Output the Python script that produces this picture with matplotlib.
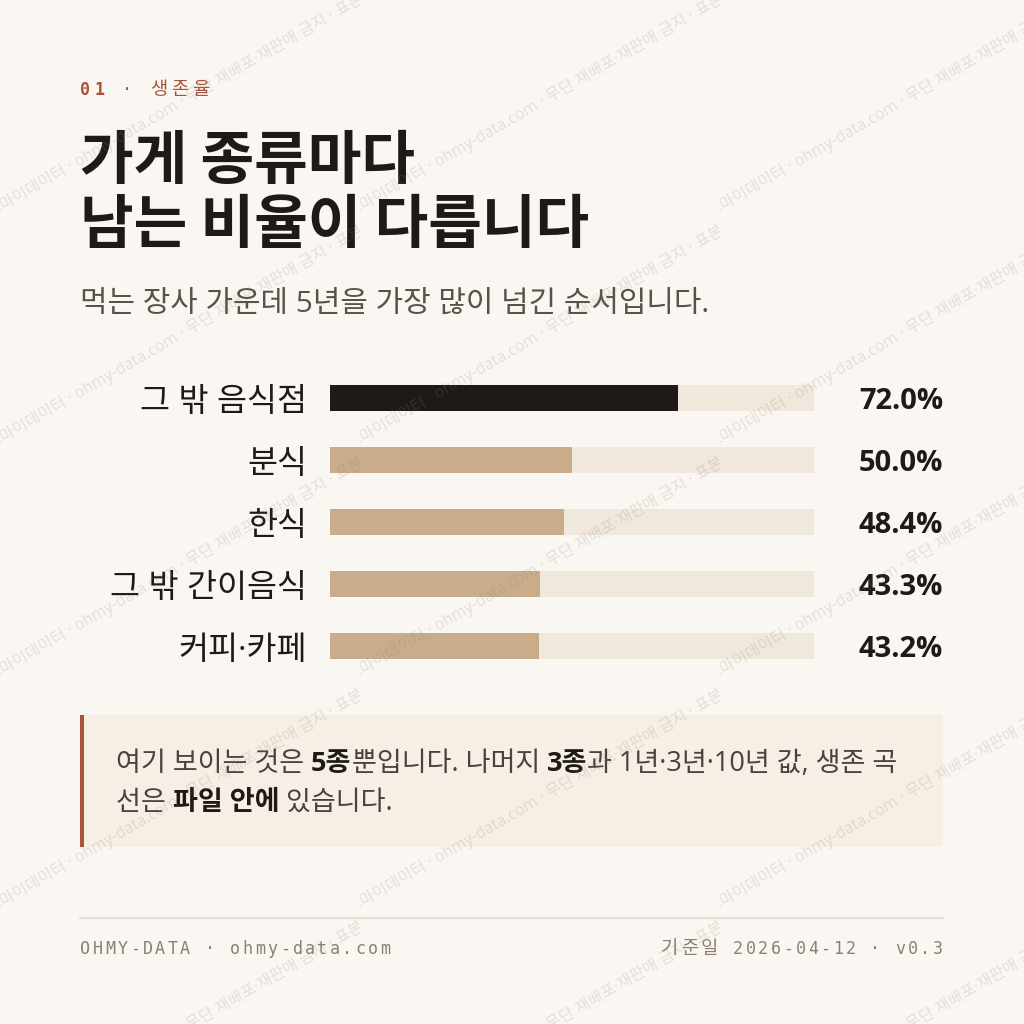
import matplotlib
matplotlib.use("Agg")
import matplotlib.pyplot as plt
from matplotlib.patches import Rectangle

# Data
categories = ["그 밖 음식점", "분식", "한식", "그 밖 간이음식", "커피·카페"]
survival_5y = [72.0, 50.0, 48.4, 43.3, 43.2]
highlight = [True, False, False, False, False]

kicker = "01 · 생존율"
title_lines = ["가게 종류마다", "남는 비율이 다릅니다"]
subtitle = "먹는 장사 가운데 5년을 가장 많이 넘긴 순서입니다."
note_line1 = [("여기 보이는 것은 ", False), ("5종", True), ("뿐입니다. 나머지 ", False),
              ("3종", True), ("과 1년·3년·10년 값, 생존 곡", False)]
note_line2 = [("선은 ", False), ("파일 안에", True), (" 있습니다.", False)]
footer_left = "OHMY-DATA · ohmy-data.com"
footer_right = "기준일 2026-04-12 · v0.3"
watermark = "오마이데이터 · ohmy-data.com · 무단 재배포·재판매 금지 · 표본 외 사용 금지"

# Colours
BG = "#faf7f2"
DARK = "#1f1a17"
TAN = "#c9ad8a"
TRACK = "#f0e8dc"
RUST = "#a8533a"
NOTE_BG = "#f6efe6"
GREY = "#5a5149"
FOOT = "#8c7f70"
CJK = "Noto Sans CJK KR"
SANS = ["Open Sans", CJK]
MONO = ["DejaVu Sans Mono", CJK]

fig = plt.figure(figsize=(10.24, 10.24), dpi=100, facecolor=BG)
renderer = fig.canvas.get_renderer()

# background axes in pixel coordinates
bg = fig.add_axes([0, 0, 1, 1])
bg.set_xlim(0, 1024)
bg.set_ylim(1024, 0)
bg.axis("off")


def advance(ax, s, **kw):
    # width of a string including spaces, via bar padding
    a = ax.text(0, 0, "|" + s + "|", **kw)
    b = ax.text(0, 0, "||", **kw)
    w = a.get_window_extent(renderer).width - b.get_window_extent(renderer).width
    a.remove()
    b.remove()
    return w


def spaced(ax, x, y, s, track, props):
    # draws letter-spaced text char by char, props is a function of the char
    for ch in s:
        kw = props(ch)
        if ch != " ":
            ax.text(x, y, ch, va="baseline", **kw)
        x += advance(ax, ch, **kw) + track
    return x


def spaced_width(ax, s, track, props):
    return sum(advance(ax, ch, **props(ch)) for ch in s) + track * (len(s) - 1)


def is_hangul(ch):
    return "\uac00" <= ch <= "\ud7a3"


# kicker
def kicker_props(ch):
    return dict(fontsize=13.5 if is_hangul(ch) else 12, family=MONO, color=RUST,
                weight="bold" if ch.isdigit() else "normal")


spaced(bg, 80, 95, kicker, 4, kicker_props)

# title + subtitle
bg.text(80, 179, title_lines[0], fontsize=42, weight="bold", family=CJK, color=DARK, va="baseline")
bg.text(80, 243, title_lines[1], fontsize=42, weight="bold", family=CJK, color=DARK, va="baseline")
bg.text(80, 312, subtitle, fontsize=21.5, family=SANS, color=GREY, va="baseline")

# note box
bg.add_patch(Rectangle((80, 715), 863, 132, facecolor=NOTE_BG, edgecolor="none"))
bg.add_patch(Rectangle((80, 715), 4, 132, facecolor=RUST, edgecolor="none"))


def runs(ax, x, y, parts, size):
    for s, bold in parts:
        kw = dict(fontsize=size, family=SANS, color=DARK if bold else "#4a423b",
                  weight="bold" if bold else "normal")
        ax.text(x, y, s, va="baseline", **kw)
        x += advance(ax, s, **kw)


runs(bg, 116, 771, note_line1, 19.5)
runs(bg, 116, 810, note_line2, 19.5)

# footer
bg.plot([80, 943], [918, 918], color="#e6dfd3", lw=1.5)


def foot_props(ch):
    return dict(fontsize=13.5 if is_hangul(ch) else 12, family=MONO, color=FOOT)


spaced(bg, 80, 954, footer_left, 2.5, foot_props)
w = spaced_width(bg, footer_right, 2.5, foot_props)
spaced(bg, 943 - w, 954, footer_right, 2.5, foot_props)

# bar chart
ax = fig.add_axes([330 / 1024, 1 - 677 / 1024, 484 / 1024, 310 / 1024])
ax.patch.set_alpha(0)
ypos = list(range(len(categories)))
ax.barh(ypos, [100] * len(categories), height=0.42, color=TRACK)
ax.barh(ypos, survival_5y, height=0.42, color=[DARK if h else TAN for h in highlight])
ax.set_xlim(0, 100)
ax.set_ylim(len(categories) - 0.5, -0.5)
ax.set_yticks(ypos)
ax.set_yticklabels(categories, fontsize=23.5, family=SANS, color=DARK)
ax.set_xticks([])
ax.tick_params(axis="y", length=0, pad=16.5)
for sp in ax.spines.values():
    sp.set_visible(False)
for i, v in enumerate(survival_5y):
    ax.text(1.2665, i, f"{v:.1f}%", transform=ax.get_yaxis_transform(), ha="right",
            va="center_baseline", fontsize=21, weight="bold", family="Open Sans", color=DARK)

# watermark tiles on top
wm = fig.add_axes([0, 0, 1, 1], zorder=10)
wm.set_xlim(0, 1024)
wm.set_ylim(1024, 0)
wm.axis("off")
for k in range(5):
    ty = -10 + 232 * k
    for tx in (0, 360, 720):
        t = wm.text(tx - 9, ty + 228, watermark, rotation=30, rotation_mode="anchor",
                    ha="left", va="baseline", fontsize=11.5, family=SANS,
                    color="#8a7f72", alpha=0.2, clip_on=True)
        t.set_clip_path(Rectangle((tx, ty), 360, 232, transform=wm.transData))

fig.savefig("out.png", dpi=100, facecolor=BG)
